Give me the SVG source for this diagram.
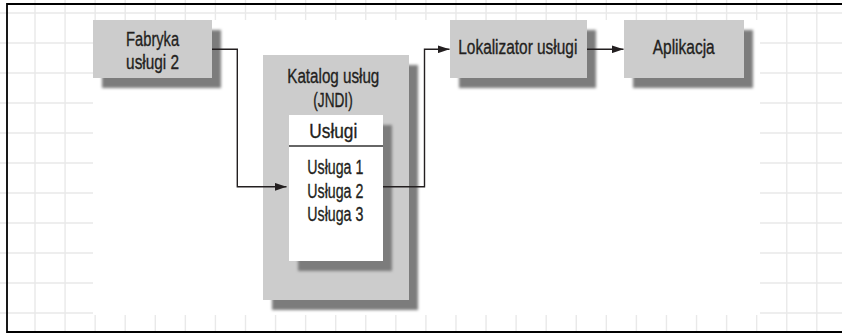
<svg xmlns="http://www.w3.org/2000/svg" width="842" height="333" viewBox="0 0 842 333">
<style>
.grid line{stroke:#e9e9e9;stroke-width:1.4}
.box{fill:#cccccc}
.shadow{fill:#7b7b7b;filter:url(#blur)}
.inner{fill:#ffffff}
text{font-family:"Liberation Sans Narrow","Liberation Sans",Arial,sans-serif;font-size:20px;fill:#231f20;stroke:#231f20;stroke-width:0.35;text-anchor:middle}
.conn path{fill:none;stroke:#231f20;stroke-width:1.4}
</style>
<defs>
<filter id="blur" x="-20%" y="-20%" width="140%" height="140%"><feGaussianBlur stdDeviation="1.6"/></filter>
<marker id="arrow" viewBox="0 0 12 8" refX="12" refY="4" markerWidth="12" markerHeight="8" markerUnits="userSpaceOnUse" orient="auto"><path d="M0,0 L12,4 L0,8 Z" fill="#231f20"/></marker>
</defs>
<rect width="842" height="333" fill="#ffffff"/>
<g class="grid">
<line x1="35" y1="0" x2="35" y2="333"/><line x1="65.07" y1="0" x2="65.07" y2="333"/><line x1="95.14" y1="0" x2="95.14" y2="333"/><line x1="125.21" y1="0" x2="125.21" y2="333"/><line x1="155.28" y1="0" x2="155.28" y2="333"/><line x1="185.35" y1="0" x2="185.35" y2="333"/><line x1="215.42" y1="0" x2="215.42" y2="333"/><line x1="245.49" y1="0" x2="245.49" y2="333"/><line x1="275.56" y1="0" x2="275.56" y2="333"/><line x1="305.63" y1="0" x2="305.63" y2="333"/><line x1="335.7" y1="0" x2="335.7" y2="333"/><line x1="365.77" y1="0" x2="365.77" y2="333"/><line x1="395.84" y1="0" x2="395.84" y2="333"/><line x1="425.91" y1="0" x2="425.91" y2="333"/><line x1="455.98" y1="0" x2="455.98" y2="333"/><line x1="486.05" y1="0" x2="486.05" y2="333"/><line x1="516.12" y1="0" x2="516.12" y2="333"/><line x1="546.19" y1="0" x2="546.19" y2="333"/><line x1="576.26" y1="0" x2="576.26" y2="333"/><line x1="606.33" y1="0" x2="606.33" y2="333"/><line x1="636.4" y1="0" x2="636.4" y2="333"/><line x1="666.47" y1="0" x2="666.47" y2="333"/><line x1="696.54" y1="0" x2="696.54" y2="333"/><line x1="726.61" y1="0" x2="726.61" y2="333"/><line x1="756.68" y1="0" x2="756.68" y2="333"/><line x1="786.75" y1="0" x2="786.75" y2="333"/><line x1="816.82" y1="0" x2="816.82" y2="333"/>
<line x1="0" y1="13" x2="842" y2="13"/><line x1="0" y1="43" x2="842" y2="43"/><line x1="0" y1="73" x2="842" y2="73"/><line x1="0" y1="103" x2="842" y2="103"/><line x1="0" y1="133" x2="842" y2="133"/><line x1="0" y1="163" x2="842" y2="163"/><line x1="0" y1="193" x2="842" y2="193"/><line x1="0" y1="223" x2="842" y2="223"/><line x1="0" y1="253" x2="842" y2="253"/><line x1="0" y1="283" x2="842" y2="283"/><line x1="0" y1="313" x2="842" y2="313"/>
</g>
<rect x="93" y="20" width="667" height="295" fill="#ffffff"/>
<path d="M850,4 H7 V332 H850" fill="none" stroke="#000000" stroke-width="1.8"/>

<g id="fabryka">
<rect class="shadow" x="102" y="30" width="119" height="58"/>
<rect class="box" x="93" y="20" width="119" height="58"/>
<text x="152.6" y="46" textLength="53" lengthAdjust="spacingAndGlyphs">Fabryka</text>
<text x="152.6" y="69" textLength="53" lengthAdjust="spacingAndGlyphs">usługi 2</text>
</g>

<g id="katalog">
<rect class="shadow" x="272" y="65" width="146" height="245"/>
<rect class="box" x="263" y="55" width="146" height="245"/>
<text x="333.3" y="83.3" textLength="92" lengthAdjust="spacingAndGlyphs">Katalog usług</text>
<text x="333" y="106.7" textLength="39.4" lengthAdjust="spacingAndGlyphs">(JNDI)</text>
</g>

<g id="uslugi">
<rect class="shadow" x="298" y="125" width="94" height="146"/>
<rect class="inner" x="289" y="115" width="94" height="146"/>
<line x1="289" y1="146" x2="383" y2="146" stroke="#333333" stroke-width="1.5"/>
<text x="333.3" y="138" textLength="48" lengthAdjust="spacingAndGlyphs">Usługi</text>
<text x="335.3" y="174" textLength="56" lengthAdjust="spacingAndGlyphs">Usługa 1</text>
<text x="335.3" y="197.5" textLength="56" lengthAdjust="spacingAndGlyphs">Usługa 2</text>
<text x="335.3" y="221" textLength="56" lengthAdjust="spacingAndGlyphs">Usługa 3</text>
</g>

<g id="lokalizator">
<rect class="shadow" x="459" y="30" width="137" height="58"/>
<rect class="box" x="450" y="20" width="137" height="58"/>
<text x="517.8" y="53.5" textLength="119" lengthAdjust="spacingAndGlyphs">Lokalizator usługi</text>
</g>

<g id="aplikacja">
<rect class="shadow" x="633" y="30" width="120" height="58"/>
<rect class="box" x="624" y="20" width="120" height="58"/>
<text x="683.7" y="53.5" textLength="62" lengthAdjust="spacingAndGlyphs">Aplikacja</text>
</g>

<g class="conn">
<path d="M212,49.3 H237.3 V186.8 H286.5" marker-end="url(#arrow)"/>
<path d="M383,186.8 H424.5 V49.3 H449.5" marker-end="url(#arrow)"/>
<path d="M587,49.3 H623.5" marker-end="url(#arrow)"/>
</g>
</svg>
